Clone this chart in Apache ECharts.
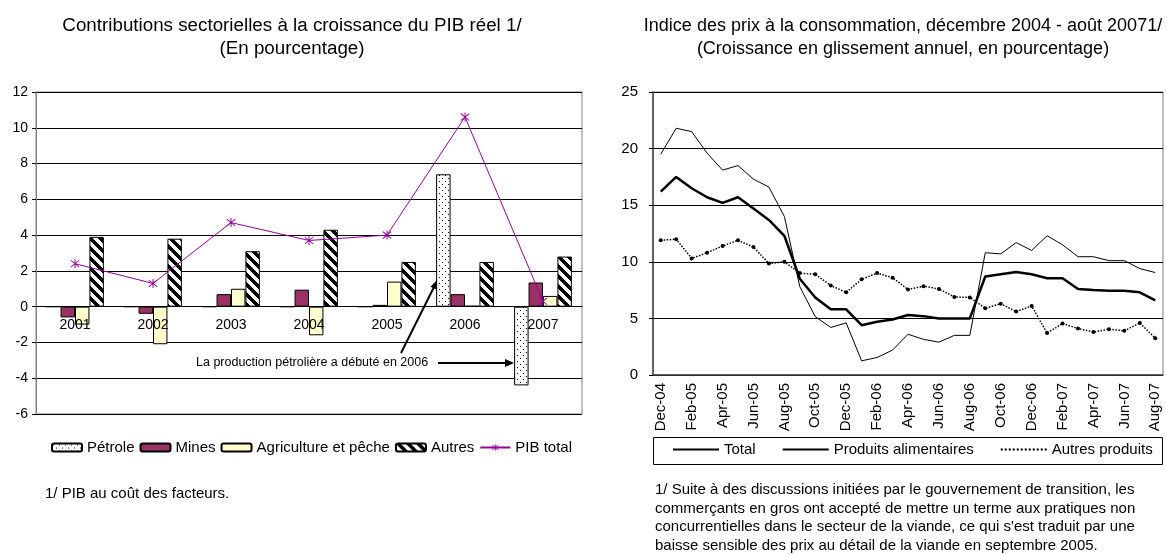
<!DOCTYPE html>
<html>
<head>
    <meta charset="UTF-8">
    <title>Contributions et prix</title>
    <script src="https://cdn.jsdelivr.net/npm/echarts@6/dist/echarts.min.js"></script>
    <style>
        body { margin: 0; background: #fff; }
        #chart { width: 1166px; height: 554px; }
    </style>
</head>
<body>
    <div id="chart"></div>
    <script>
        // gauche : contributions sectorielles (%)
        var years = ['2001', '2002', '2003', '2004', '2005', '2006', '2007'];
        var petrole = [0, 0, 0, 0, 0, 7.4, -4.4];
        var mines = [-0.6, -0.4, 0.7, 0.95, 0.1, 0.7, 1.35];
        var agriculture = [-1.0, -2.1, 1.0, -1.6, 1.4, 0.05, 0.6];
        var autres = [3.9, 3.8, 3.1, 4.3, 2.5, 2.5, 2.8];
        var pibTotal = [2.4, 1.3, 4.7, 3.7, 4.0, 10.6, 0.3];
        var leftMin = -6, leftMax = 12;

        // droite : indice des prix (glissement annuel, %)
        var months = ['Dec-04', 'Jan-05', 'Feb-05', 'Mar-05', 'Apr-05', 'May-05', 'Jun-05', 'Jul-05',
            'Aug-05', 'Sep-05', 'Oct-05', 'Nov-05', 'Dec-05', 'Jan-06', 'Feb-06', 'Mar-06', 'Apr-06',
            'May-06', 'Jun-06', 'Jul-06', 'Aug-06', 'Sep-06', 'Oct-06', 'Nov-06', 'Dec-06', 'Jan-07',
            'Feb-07', 'Mar-07', 'Apr-07', 'May-07', 'Jun-07', 'Jul-07', 'Aug-07'];
        var total = [16.2, 17.5, 16.5, 15.7, 15.2, 15.7, 14.7, 13.7, 12.3, 8.5, 6.85, 5.8, 5.8,
            4.4, 4.7, 4.9, 5.3, 5.2, 5.0, 5.0, 5.0, 8.7, 8.9, 9.1, 8.9, 8.55, 8.55, 7.6, 7.5,
            7.45, 7.45, 7.3, 6.6];
        var alimentaires = [19.5, 21.8, 21.5, 19.6, 18.1, 18.5, 17.3, 16.6, 14.0, 7.8, 5.15, 4.2, 4.6,
            1.25, 1.55, 2.2, 3.6, 3.15, 2.9, 3.5, 3.5, 10.8, 10.7, 11.7, 11.0, 12.3, 11.5, 10.45,
            10.45, 10.1, 10.1, 9.4, 9.05];
        var autresProduits = [11.9, 12.0, 10.3, 10.8, 11.4, 11.9, 11.3, 9.85, 10.0, 9.0, 8.9, 7.9, 7.3,
            8.45, 9.0, 8.6, 7.55, 7.85, 7.6, 6.9, 6.85, 5.9, 6.3, 5.6, 6.1, 3.7, 4.55, 4.1, 3.8,
            4.05, 3.9, 4.6, 3.25];

        var FONT = '"Liberation Sans", Arial, sans-serif';
        var LEFT_H = 322;

        function pattern(size, draw) {
            var c = document.createElement('canvas');
            c.width = size;
            c.height = size;
            var ctx = c.getContext('2d');
            ctx.fillStyle = '#fff';
            ctx.fillRect(0, 0, size, size);
            ctx.fillStyle = '#000';
            draw(ctx, size);
            return { image: c, repeat: 'repeat' };
        }
        var dots = pattern(6, function (ctx) {
            ctx.fillRect(1, 1, 1, 1);
            ctx.fillRect(4, 4, 1, 1);
        });
        var stripes = pattern(10, function (ctx, n) {
            for (var x = 0; x < n; x++) {
                for (var y = 0; y < n; y++) {
                    if (((x - y) % n + n) % n < 5) ctx.fillRect(x, y, 1, 1);
                }
            }
        });
        var star = 'path://M4.5,0L5.5,0L5.5,10L4.5,10Z M0.5,1.5L1.2,0.8L9.5,8.5L8.8,9.2Z M8.8,0.8L9.5,1.5L1.2,9.2L0.5,8.5Z';

        var chart = echarts.init(document.getElementById('chart'), null, { renderer: 'canvas' });

        function axisText(size) {
            return { color: '#000', fontSize: size, fontFamily: FONT };
        }

        function barSeries(name, data, color) {
            return {
                name: name, type: 'bar', data: data,
                xAxisIndex: 0, yAxisIndex: 0,
                barGap: '0%', barCategoryGap: '26%',
                itemStyle: { color: color, borderColor: '#000', borderWidth: 1 }
            };
        }

        function label(x, y, text, size, align) {
            return {
                type: 'text', x: x, y: y, silent: true,
                style: {
                    text: text, fill: '#000', fontSize: size, fontFamily: FONT,
                    textAlign: align || 'center', textVerticalAlign: 'middle'
                }
            };
        }

        // axe des catégories placé sur le zéro
        var zeroOffset = -(0 - leftMin) / (leftMax - leftMin) * LEFT_H;

        var option = {
            animation: false,
            backgroundColor: '#fff',
            textStyle: { fontFamily: FONT },
            grid: [
                { left: 36, top: 92, width: 546, height: LEFT_H, show: true, borderColor: '#808080', borderWidth: 1 },
                { left: 653, top: 92, width: 510, height: 283, show: true, borderColor: '#808080', borderWidth: 1 }
            ],
            xAxis: [
                {
                    type: 'category', gridIndex: 0, data: years, z: 10,
                    offset: zeroOffset,
                    axisLine: { onZero: false, lineStyle: { color: '#000' } },
                    axisTick: { length: 4, lineStyle: { color: '#000' } },
                    axisLabel: Object.assign({ margin: 11 }, axisText(14))
                },
                {
                    type: 'category', gridIndex: 1, data: months,
                    axisLine: { lineStyle: { color: '#404040', width: 1.5 } },
                    axisTick: { interval: 1, length: 5, lineStyle: { color: '#000' } },
                    axisLabel: Object.assign({ interval: 1, rotate: 90, margin: 8 }, axisText(15))
                }
            ],
            yAxis: [
                {
                    type: 'value', gridIndex: 0, min: leftMin, max: leftMax, interval: 2,
                    axisLine: { show: true, lineStyle: { color: '#808080' } },
                    axisTick: { show: true, length: 4, lineStyle: { color: '#000' } },
                    splitLine: { lineStyle: { color: '#000' } },
                    axisLabel: Object.assign({ margin: 8 }, axisText(14))
                },
                {
                    type: 'value', gridIndex: 1, min: 0, max: 25, interval: 5,
                    axisLine: { show: true, lineStyle: { color: '#404040', width: 1.5 } },
                    axisTick: { show: true, length: 4, lineStyle: { color: '#000' } },
                    splitLine: { lineStyle: { color: '#000' } },
                    axisLabel: Object.assign({ margin: 15 }, axisText(15))
                }
            ],
            legend: [
                {
                    data: ['Pétrole', 'Mines', 'Agriculture et pêche', 'Autres', 'PIB total'],
                    left: 51, top: 440, padding: 0, itemWidth: 30, itemHeight: 8, itemGap: 5,
                    textStyle: { color: '#000', fontSize: 15, fontFamily: FONT }
                },
                {
                    data: ['Total', 'Produits alimentaires', 'Autres produits'],
                    left: 672, top: 442, padding: 0, itemWidth: 46, itemHeight: 12, itemGap: 26,
                    itemStyle: { opacity: 0 },
                    textStyle: { color: '#000', fontSize: 15, fontFamily: FONT }
                }
            ],
            series: [
                barSeries('Pétrole', petrole, dots),
                barSeries('Mines', mines, '#993366'),
                barSeries('Agriculture et pêche', agriculture, '#FFFFCC'),
                barSeries('Autres', autres, stripes),
                {
                    name: 'PIB total', type: 'line', data: pibTotal, xAxisIndex: 0, yAxisIndex: 0,
                    symbol: star, symbolSize: 9, z: 12,
                    lineStyle: { color: '#990099', width: 1 },
                    itemStyle: { color: '#990099' }
                },
                {
                    name: 'Total', type: 'line', data: total, xAxisIndex: 1, yAxisIndex: 1,
                    symbol: 'none', lineStyle: { color: '#000', width: 2.5 }, itemStyle: { color: '#000' }
                },
                {
                    name: 'Produits alimentaires', type: 'line', data: alimentaires, xAxisIndex: 1, yAxisIndex: 1,
                    symbol: 'none', lineStyle: { color: '#000', width: 1 }, itemStyle: { color: '#000' }
                },
                {
                    name: 'Autres produits', type: 'line', data: autresProduits, xAxisIndex: 1, yAxisIndex: 1,
                    symbol: 'circle', symbolSize: 4, showSymbol: true,
                    lineStyle: { color: '#000', width: 1.5, type: 'dotted' }, itemStyle: { color: '#000' }
                }
            ],
            graphic: [
                label(292, 26, 'Contributions sectorielles à la croissance du PIB réel 1/', 18.8),
                label(292, 49, '(En pourcentage)', 18.8),
                label(903, 26, 'Indice des prix à la consommation, décembre 2004 - août 20071/', 18),
                label(903, 49, '(Croissance en glissement annuel, en pourcentage)', 18),
                label(45, 494, '1/ PIB au coût des facteurs.', 15, 'left'),
                label(655, 490, '1/ Suite à des discussions initiées par le gouvernement de transition, les', 15, 'left'),
                label(655, 508.5, 'commerçants en gros ont accepté de mettre un terme aux pratiques non', 15, 'left'),
                label(655, 527, 'concurrentielles dans le secteur de la viande, ce qui s\'est traduit par une', 15, 'left'),
                label(655, 545.5, 'baisse sensible des prix au détail de la viande en septembre 2005.', 15, 'left'),
                label(196, 363, 'La production pétrolière a débuté en 2006', 12.5, 'left'),
                {
                    type: 'rect', silent: true,
                    shape: { x: 653.5, y: 437.5, width: 509, height: 27 },
                    style: { fill: 'none', stroke: '#000', lineWidth: 1 }
                },
                {
                    type: 'line', silent: true,
                    shape: { x1: 401, y1: 353, x2: 434, y2: 287 },
                    style: { stroke: '#000', lineWidth: 2 }
                },
                {
                    type: 'polygon', silent: true,
                    shape: { points: [[437, 280], [437, 290], [430.5, 286.8]] },
                    style: { fill: '#000' }
                },
                {
                    type: 'line', silent: true,
                    shape: { x1: 438, y1: 363, x2: 506, y2: 363 },
                    style: { stroke: '#000', lineWidth: 2 }
                },
                {
                    type: 'polygon', silent: true,
                    shape: { points: [[514, 363], [505, 359], [505, 367]] },
                    style: { fill: '#000' }
                }
            ]
        };

        chart.setOption(option);
    </script>
</body>
</html>
